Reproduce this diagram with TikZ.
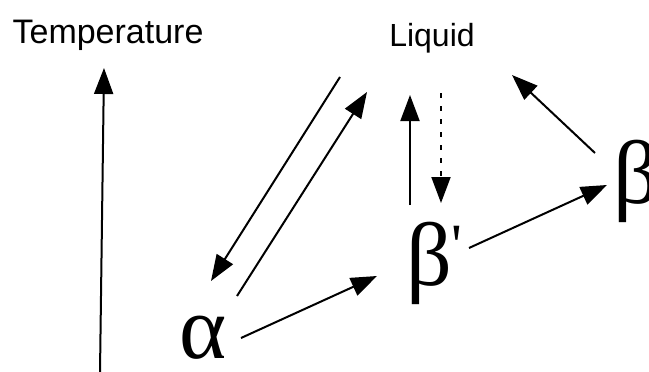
\documentclass[tikz,border=0pt]{standalone}
\usepackage{fontspec}
\setmainfont{Liberation Serif}
\newfontfamily\labelfont{Liberation Sans}
\usetikzlibrary{arrows.meta,calc}
\tikzset{
  lbl/.style={inner sep=0pt, anchor=base, font=\labelfont\fontsize{32}{32}\selectfont},
  greek/.style={inner sep=0pt, font=\fontsize{90}{90}\selectfont},
  conn/.style={line width=2pt, -{Triangle[length=26pt,width=19pt]}},
  dotconn/.style={conn, dash pattern=on 5pt off 8pt}
}
\begin{document}
\begin{tikzpicture}[x=1pt,y=-1pt]
\useasboundingbox (0,0) rectangle (649,372);
\node[lbl, font=\labelfont\fontsize{34}{34}\selectfont] (temp) at (108,43) {Temperature};
\node[lbl] (liq) at (432,46) {Liquid};
\node[greek, anchor=base] (al) at (203,358) {α};
\node[greek, anchor=base west] (bp) at (406,285) {β\raisebox{20pt}{\fontsize{60}{60}\selectfont\textquotesingle}};
\node[greek, anchor=base west] (b) at (613,203) {β};
\coordinate (axbot) at (100,372);
% temperature axis
\draw[conn] (axbot) -- ($(temp.base)+(-4,25)$);
% liquid <-> alpha
\draw[conn] ($(liq.base)+(-92,31)$) -- ($(al.base)+(8,-77)$);
\draw[conn] ($(al.base)+(34,-62)$) -- ($(liq.base)+(-65,46)$);
% liquid <-> beta'
\draw[conn] ($(bp.base west)+(4,-80)$) -- ($(liq.base)+(-22,49)$);
\draw[dotconn] ($(liq.base)+(9,47)$) -- ($(bp.base west)+(35,-82)$);
% alpha -> beta'
\draw[conn] ($(al.base)+(38,-20)$) -- ($(bp.base west)+(-29,-9)$);
% beta' -> beta
\draw[conn] ($(bp.base west)+(63,-37)$) -- ($(b.base west)+(-6,-18)$);
% beta -> liquid
\draw[conn] ($(b.base west)+(-18,-50)$) -- ($(liq.base)+(80,29)$);
\end{tikzpicture}
\end{document}
